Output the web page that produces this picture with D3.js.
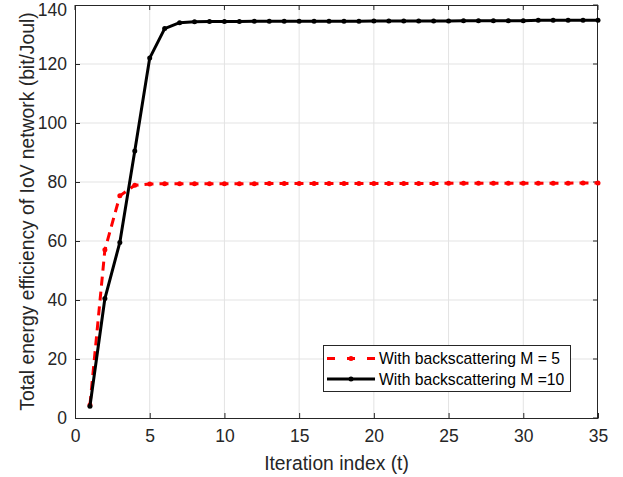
<!DOCTYPE html>
<html>
<head>
<meta charset="utf-8">
<script src="https://cdn.jsdelivr.net/npm/d3@7"></script>
<style>
  html, body { margin: 0; padding: 0; background: #fff; }
  svg { display: block; font-family: "Liberation Sans", Arial, Helvetica, sans-serif; }
</style>
</head>
<body>
<svg id="chart" width="623" height="477"></svg>
<script>
// Iteration indices 1..35
const iterations = d3.range(1, 36);

// Energy efficiency (bit/Joul) per iteration, M = 5
const effM5 = [4.4, 57, 75.3, 78.9, 79.3, 79.4, 79.4, 79.4, 79.4, 79.4,
  79.4, 79.4, 79.5, 79.5, 79.5, 79.5, 79.5, 79.5, 79.5, 79.5,
  79.5, 79.5, 79.5, 79.5, 79.6, 79.6, 79.6, 79.6, 79.6, 79.6,
  79.6, 79.6, 79.6, 79.7, 79.7];

// Energy efficiency (bit/Joul) per iteration, M = 10
const effM10 = [4, 40.5, 59.5, 90.5, 122, 132, 134, 134.3, 134.4, 134.4,
  134.4, 134.5, 134.5, 134.5, 134.5, 134.5, 134.5, 134.5, 134.5, 134.6,
  134.6, 134.6, 134.6, 134.6, 134.6, 134.7, 134.7, 134.7, 134.7, 134.7,
  134.8, 134.8, 134.8, 134.8, 134.8];

const xTicks = [0, 5, 10, 15, 20, 25, 30, 35];
const yTicks = [0, 20, 40, 60, 80, 100, 120, 140];

const seriesNames = ["With backscattering M = 5", "With backscattering M =10"];

const svg = d3.select("#chart");
const plotL = 75, plotR = 598, plotT = 5, plotB = 418;

const x = d3.scaleLinear().domain([0, 35]).range([plotL, plotR]);
const y = d3.scaleLinear().domain([0, 140]).range([plotB, plotT]);

const axisColor = "#262626";
const gridColor = "#e3e3e3";

// Grid
svg.append("g").selectAll("line").data(xTicks.slice(1, -1)).join("line")
  .attr("x1", d => x(d)).attr("x2", d => x(d))
  .attr("y1", plotT).attr("y2", plotB)
  .attr("stroke", gridColor).attr("stroke-width", 1);
svg.append("g").selectAll("line").data(yTicks.slice(1, -1)).join("line")
  .attr("x1", plotL).attr("x2", plotR)
  .attr("y1", d => y(d)).attr("y2", d => y(d))
  .attr("stroke", gridColor).attr("stroke-width", 1);

// Axes (ticks pointing inward)
const xAxis = d3.axisBottom(x).tickValues(xTicks).tickSizeInner(-5).tickSizeOuter(0).tickPadding(12);
const yAxis = d3.axisLeft(y).tickValues(yTicks).tickSizeInner(-5).tickSizeOuter(0).tickPadding(8);

const gx = svg.append("g").attr("transform", `translate(0,${plotB})`).call(xAxis);
const gy = svg.append("g").attr("transform", `translate(${plotL},0)`).call(yAxis);
[gx, gy].forEach(g => {
  g.select(".domain").attr("stroke", axisColor);
  g.selectAll(".tick line").attr("stroke", axisColor);
  g.selectAll(".tick text").attr("fill", axisColor)
    .style("font-size", "17.5px").style("font-family", "Liberation Sans, Arial, sans-serif");
});
// keep the topmost y label inside the canvas
gy.selectAll(".tick text").filter(d => d === 140).attr("dy", "0.58em");

// Box: top and right edges with inward ticks
svg.append("line").attr("x1", plotL).attr("x2", plotR).attr("y1", plotT + 0.5).attr("y2", plotT + 0.5)
  .attr("stroke", axisColor);
svg.append("line").attr("x1", plotR - 0.5).attr("x2", plotR - 0.5).attr("y1", plotT).attr("y2", plotB)
  .attr("stroke", axisColor);
svg.append("g").selectAll("line").data(xTicks).join("line")
  .attr("x1", d => x(d)).attr("x2", d => x(d)).attr("y1", plotT).attr("y2", plotT + 5)
  .attr("stroke", axisColor);
svg.append("g").selectAll("line").data(yTicks).join("line")
  .attr("x1", plotR - 5).attr("x2", plotR).attr("y1", d => y(d)).attr("y2", d => y(d))
  .attr("stroke", axisColor);

// Series
const line = d3.line().x(d => x(d[0])).y(d => y(d[1]));
const series = [
  { values: effM5, color: "#ff0000", dash: "9,6", legendDash: "8,12", width: 3 },
  { values: effM10, color: "#000000", dash: null, legendDash: null, width: 3 }
];

series.forEach(s => {
  const pts = iterations.map((t, i) => [t, s.values[i]]);
  svg.append("path").datum(pts)
    .attr("d", line).attr("fill", "none")
    .attr("stroke", s.color).attr("stroke-width", s.width)
    .attr("stroke-dasharray", s.dash)
    .attr("stroke-linejoin", "round");
  svg.append("g").selectAll("circle").data(pts).join("circle")
    .attr("cx", d => x(d[0])).attr("cy", d => y(d[1])).attr("r", 2.5)
    .attr("fill", s.color);
});

// Axis titles
svg.append("text").attr("x", (plotL + plotR) / 2).attr("y", 470)
  .attr("text-anchor", "middle").attr("fill", axisColor)
  .style("font-size", "19.3px").text("Iteration index (t)");
svg.append("text").attr("transform", `translate(34,${(plotT + plotB) / 2}) rotate(-90)`)
  .attr("text-anchor", "middle").attr("fill", axisColor)
  .style("font-size", "19.3px").text("Total energy efficiency of IoV network (bit/Joul)");

// Legend
const lg = svg.append("g").attr("transform", "translate(323,345)");
lg.append("rect").attr("x", 0.5).attr("y", 0.5).attr("width", 247).attr("height", 46)
  .attr("fill", "#fff").attr("stroke", axisColor);
series.forEach((s, i) => {
  const yy = 13.5 + i * 20.5;
  lg.append("line").attr("x1", 4).attr("x2", 52).attr("y1", yy).attr("y2", yy)
    .attr("stroke", s.color).attr("stroke-width", s.width).attr("stroke-dasharray", s.legendDash);
  lg.append("circle").attr("cx", 28).attr("cy", yy).attr("r", 2.5).attr("fill", s.color);
  lg.append("text").attr("x", 56).attr("y", yy + 5.5).attr("fill", "#000")
    .style("font-size", "15.7px").text(seriesNames[i]);
});
</script>
</body>
</html>
